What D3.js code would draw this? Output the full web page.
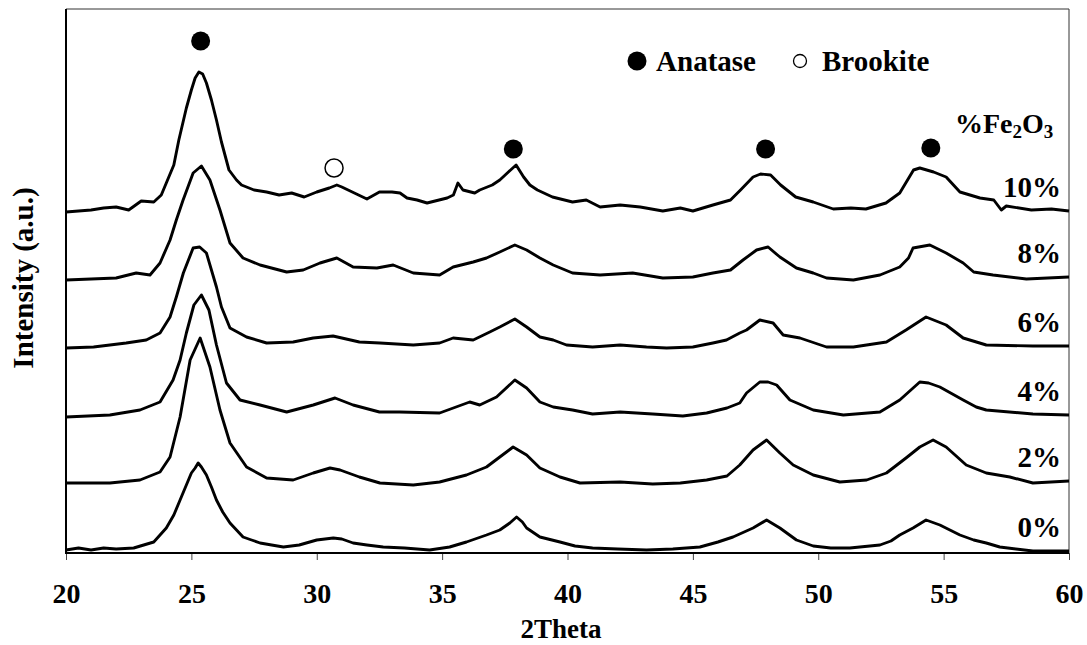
<!DOCTYPE html>
<html>
<head>
<meta charset="utf-8">
<script src="https://cdn.jsdelivr.net/npm/d3@7"></script>
<style>
  body { margin: 0; background: #fff; }
  svg text { font-family: "Liberation Serif", "Times New Roman", serif; font-weight: bold; fill: #000; }
</style>
</head>
<body>
<svg id="chart" width="1087" height="645"></svg>
<script>
// XRD patterns, stacked (intensity in arbitrary units, offset already included)
const seriesNames = ['0%', '2%', '4%', '6%', '8%', '10%'];

const fe0 = [[20,3],[20.5,5],[21,3],[21.5,5],[22,4],[22.7,5],[23.1,8],[23.5,11],[24,25],[24.3,38],[24.55,53],[24.8,68],
  [25,80],[25.15,85],[25.27,90],[25.4,86],[25.6,78],[25.8,66],[26,53],[26.25,41],[26.54,30],[26.8,23],[27.06,16],[27.4,13],
  [27.74,10],[28.2,8],[28.67,6],[29.3,8],[30,13],[30.66,15],[31,14],[31.45,10],[32,8],[32.65,6],[33.5,5],[34.5,3],[35.3,6],
  [35.97,11],[36.77,18],[37.3,23],[37.7,30],[37.97,36],[38.2,31],[38.37,25],[38.9,16],[39.7,11],[40.3,7],[41,5],[42,4],
  [43.15,3],[44.2,4],[45.28,6],[46,11],[46.6,16],[47.4,25],[47.94,33],[48.47,25],[49.13,13],[49.8,7],[50.5,5],[51.26,5],
  [52.46,8],[52.9,12],[53.25,18],[53.78,25],[54.3,33],[54.85,28],[55.65,18],[56.2,13],[56.7,10],[57.24,6],[58.56,2],[60,2]];

const fe2 = [[20,70],[21.75,70],[22.95,73],[23.75,81],[24.15,96],[24.55,136],[24.95,193],[25.35,215],[25.74,186],[26.14,143],
  [26.54,110],[27.2,86],[28,75],[29.06,73],[29.86,80],[30.53,85],[30.93,83],[31.7,76],[32.52,70],[33.85,68],[34.9,71],
  [35.97,78],[36.77,86],[37.3,96],[37.83,106],[38.37,98],[38.9,85],[39.7,76],[40.5,70],[42.1,71],[43.4,69],[44.5,70],
  [45.55,73],[46.36,77],[46.87,88],[47.4,103],[47.94,113],[48.47,100],[49,88],[49.8,78],[50.86,71],[51.93,73],[52.72,80],
  [53.5,95],[54.05,106],[54.58,113],[55.1,106],[55.9,88],[56.7,80],[57.64,76],[58.56,70],[60,72]];

const fe4 = [[20,136],[21.75,138],[22.95,143],[23.75,151],[24.27,173],[24.55,193],[24.8,220],[25.1,248],[25.4,258],[25.7,243],
  [26,208],[26.4,170],[26.94,153],[27.74,148],[28.8,141],[29.86,148],[30.73,155],[31.45,148],[32.5,141],[33.3,141],[34.9,140],
  [36.1,151],[36.5,148],[37.17,156],[37.9,173],[38.37,165],[38.9,151],[39.43,146],[40.2,143],[41,139],[42.1,141],[43.4,139],
  [44.6,137],[45.55,140],[46.36,145],[46.87,150],[47.14,160],[47.67,171],[48,171],[48.34,168],[48.87,153],[49.8,143],[51,138],
  [52.46,141],[53.25,153],[54.05,171],[54.4,170],[54.85,166],[55.78,153],[56.3,146],[56.7,143],[58.56,139],[60,138]];

const fe6 = [[20,205],[21.1,206],[22.4,210],[23.2,213],[23.75,220],[24.15,236],[24.4,256],[24.68,280],[25.07,305],[25.33,306],
  [25.6,300],[26,266],[26.2,246],[26.54,225],[27.2,216],[28,210],[29.06,211],[29.86,215],[30.65,217],[31.7,211],[32.52,210],
  [33.85,208],[34.9,210],[35.44,215],[36.24,213],[36.9,221],[37.3,226],[37.9,234],[38.37,226],[38.9,216],[39.43,213],[39.96,208],
  [41,206],[42.1,208],[43.15,206],[43.95,205],[45,206],[45.8,210],[46.34,213],[46.87,220],[47.14,223],[47.67,233],[48.2,230],
  [48.6,218],[49.27,215],[50.33,206],[51.4,206],[52.72,211],[53.5,223],[54.3,236],[55.1,228],[55.78,215],[56.7,208],
  [58.56,207],[60,207]];

const fe8 = [[20,273],[21,274],[22,275],[22.8,280],[23.35,278],[23.75,290],[24.15,313],[24.4,333],[24.67,353],[25.07,380],
  [25.4,387],[25.74,373],[26.14,343],[26.54,310],[27.06,295],[27.74,288],[28.8,281],[29.46,283],[30.13,290],[30.8,295],
  [31.45,286],[32.4,285],[33.05,288],[33.85,280],[34.9,278],[35.44,286],[36.24,291],[36.77,295],[37.3,301],[37.9,308],
  [38.37,303],[38.9,295],[39.43,288],[40.2,280],[41.3,278],[42.6,280],[43.8,275],[45,276],[45.8,280],[46.5,283],[47,293],
  [47.54,303],[48,306],[48.47,296],[49.13,285],[49.8,280],[50.33,275],[51.4,273],[52.46,278],[53.25,286],[53.6,295],
  [53.78,305],[54.45,308],[55.1,300],[55.78,290],[56.2,281],[56.97,278],[58.3,274],[60,276]];

const fe10 = [[20,341],[21,343],[21.5,345],[22,346],[22.5,343],[23,352],[23.5,351],[23.8,358],[24,370],[24.3,388],[24.5,413],
  [24.8,445],[25,463],[25.15,475],[25.3,481],[25.45,479],[25.6,470],[25.8,453],[26,433],[26.2,411],[26.5,383],[26.8,373],
  [27,368],[27.5,363],[28,361],[28.5,358],[29,360],[29.5,356],[30,361],[30.5,365],[30.8,368],[31,366],[31.5,360],[32,354],
  [32.5,361],[33,361],[33.32,360],[33.6,355],[34,353],[34.4,350],[35.2,355],[35.45,358],[35.63,370],[35.83,363],[36.3,360],
  [36.5,363],[37,368],[37.3,373],[37.6,380],[37.95,388],[38.25,376],[38.5,368],[38.8,363],[39.4,356],[40.2,351],[40.75,353],
  [41.3,346],[42.1,348],[42.9,346],[43.8,342],[44.5,345],[45,342],[45.8,348],[46.5,353],[46.9,363],[47.4,376],[47.7,379],
  [48.1,378],[48.5,368],[49.1,356],[49.8,351],[50.6,344],[51.3,345],[51.9,344],[52.7,350],[53.25,360],[53.8,383],[54.05,385],
  [54.6,381],[55.1,376],[55.65,361],[56.45,355],[57,353],[57.3,343],[57.5,347],[58.5,343],[59.3,344],[60,342]];

const allSeries = [fe0, fe2, fe4, fe6, fe8, fe10];

// phase markers: [2theta, intensity]
const anatasePeaks = [[25.37, 512], [37.84, 404], [47.9, 404], [54.49, 405]];
const brookitePeaks = [[30.69, 385]];

const xTicks = [20, 25, 30, 35, 40, 45, 50, 55, 60];

const plotLeft = 66, plotRight = 1069, plotTop = 9, plotBottom = 553;

const svg = d3.select('#chart');

const x = d3.scaleLinear().domain([20, 60]).range([plotLeft, plotRight]);
const y = d3.scaleLinear().domain([0, 544]).range([plotBottom, plotTop]);

// frame
svg.append('line').attr('x1', plotLeft).attr('x2', plotRight).attr('y1', plotTop).attr('y2', plotTop)
  .attr('stroke', '#333').attr('stroke-width', 1);
svg.append('line').attr('x1', plotRight).attr('x2', plotRight).attr('y1', plotTop).attr('y2', plotBottom)
  .attr('stroke', '#333').attr('stroke-width', 1);

// x axis
const xAxis = svg.append('g')
  .attr('transform', 'translate(0,' + plotBottom + ')')
  .call(d3.axisBottom(x).tickValues(xTicks).tickSize(7).tickPadding(23).tickFormat(d3.format('d')));
xAxis.select('.domain').remove();
xAxis.selectAll('.tick line').attr('stroke', '#444').attr('stroke-width', 1);
xAxis.selectAll('.tick text')
  .style('font-family', '"Liberation Serif", serif')
  .style('font-weight', 'bold')
  .style('font-size', '28px')
  .attr('fill', '#000');

svg.append('line').attr('x1', plotLeft).attr('x2', plotLeft).attr('y1', plotTop).attr('y2', plotBottom + 1)
  .attr('stroke', '#000').attr('stroke-width', 2);
svg.append('line').attr('x1', plotLeft - 1).attr('x2', plotRight).attr('y1', plotBottom).attr('y2', plotBottom)
  .attr('stroke', '#000').attr('stroke-width', 2);

// patterns
const line = d3.line()
  .x(d => x(d[0]))
  .y(d => y(d[1]));

svg.selectAll('path.pattern')
  .data(allSeries)
  .enter()
  .append('path')
  .attr('class', 'pattern')
  .attr('d', line)
  .attr('fill', 'none')
  .attr('stroke', '#000')
  .attr('stroke-width', 2.9)
  .attr('stroke-linejoin', 'round');

// series labels, right aligned above the end of each pattern
svg.selectAll('text.label')
  .data(allSeries)
  .enter()
  .append('text')
  .attr('class', 'label')
  .attr('x', 1061)
  .attr('y', d => y(d[d.length - 1][1]) - 14)
  .attr('text-anchor', 'end')
  .style('font-size', '29px')
  .text((d, i) => seriesNames[i]);

// %Fe2O3 header
const hdr = svg.append('text').attr('x', 955).attr('y', 133).style('font-size', '28px');
hdr.append('tspan').text('%Fe');
hdr.append('tspan').attr('dy', 5).style('font-size', '19px').text('2');
hdr.append('tspan').attr('dy', -5).text('O');
hdr.append('tspan').attr('dy', 5).style('font-size', '19px').text('3');

// peak markers
svg.selectAll('circle.anatase')
  .data(anatasePeaks)
  .enter()
  .append('circle')
  .attr('class', 'anatase')
  .attr('cx', d => x(d[0]))
  .attr('cy', d => y(d[1]))
  .attr('r', 9.5)
  .attr('fill', '#000');

svg.selectAll('circle.brookite')
  .data(brookitePeaks)
  .enter()
  .append('circle')
  .attr('class', 'brookite')
  .attr('cx', d => x(d[0]))
  .attr('cy', d => y(d[1]))
  .attr('r', 9)
  .attr('fill', '#fff')
  .attr('stroke', '#000')
  .attr('stroke-width', 1.5);

// legend
svg.append('circle').attr('cx', 637).attr('cy', 61).attr('r', 9.5).attr('fill', '#000');
svg.append('text').attr('x', 756).attr('y', 71).attr('text-anchor', 'end')
  .style('font-size', '29px').text('Anatase');
svg.append('circle').attr('cx', 800).attr('cy', 61).attr('r', 6.5)
  .attr('fill', '#fff').attr('stroke', '#000').attr('stroke-width', 1.3);
svg.append('text').attr('x', 822).attr('y', 71).style('font-size', '29px').text('Brookite');

// axis titles
svg.append('text')
  .attr('x', 561).attr('y', 638)
  .attr('text-anchor', 'middle')
  .style('font-size', '27px')
  .text('2Theta');

svg.append('text')
  .attr('transform', 'translate(33,278) rotate(-90)')
  .attr('text-anchor', 'middle')
  .style('font-size', '29px')
  .text('Intensity (a.u.)');
</script>
</body>
</html>
